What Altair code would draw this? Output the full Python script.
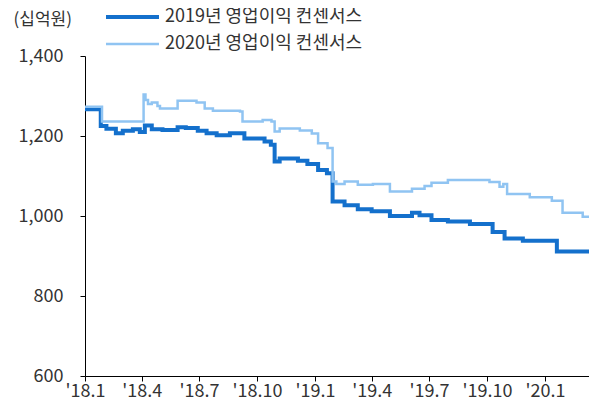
import altair as alt
import pandas as pd

series_names = ["2019년 영업이익 컨센서스", "2020년 영업이익 컨센서스"]
series_colors = ["#1470CC", "#90C4F2"]

dates_2019 = ["2018-01-01", "2018-01-26", "2018-02-04", "2018-02-19", "2018-03-02", "2018-03-18",
              "2018-03-29", "2018-04-06", "2018-04-17", "2018-05-04", "2018-05-28", "2018-06-10",
              "2018-06-29", "2018-07-13", "2018-07-29", "2018-08-19", "2018-09-11", "2018-10-13",
              "2018-10-23", "2018-10-29", "2018-11-06", "2018-12-05", "2018-12-20", "2019-01-06",
              "2019-01-20", "2019-01-29", "2019-02-17", "2019-03-10", "2019-04-01", "2019-04-30",
              "2019-06-04", "2019-06-16", "2019-07-05", "2019-07-31", "2019-09-04", "2019-10-10",
              "2019-10-29", "2019-11-27", "2020-01-20", "2020-03-18"]
values_2019 = [1267, 1225, 1218, 1207, 1213, 1217,
               1210, 1226, 1217, 1215, 1222, 1220,
               1213, 1207, 1202, 1207, 1194, 1186,
               1178, 1136, 1144, 1138, 1130, 1115,
               1107, 1036, 1027, 1017, 1012, 1000,
               1008, 1002, 990, 986, 980, 960,
               944, 938, 911, 911]

dates_2020 = ["2018-01-01", "2018-01-28", "2018-04-04", "2018-04-07", "2018-04-11", "2018-04-17",
              "2018-04-26", "2018-04-30", "2018-05-28", "2018-06-27", "2018-07-10", "2018-07-23",
              "2018-09-04", "2018-09-08", "2018-10-10", "2018-10-24", "2018-10-29", "2018-11-06",
              "2018-12-08", "2018-12-27", "2019-01-06", "2019-01-21", "2019-01-29", "2019-02-04",
              "2019-02-17", "2019-03-10", "2019-04-03", "2019-04-30", "2019-06-04", "2019-06-24",
              "2019-07-05", "2019-07-31", "2019-10-05", "2019-10-21", "2019-10-27", "2019-11-02",
              "2019-12-08", "2020-01-12", "2020-01-29", "2020-03-01", "2020-03-18"]
values_2020 = [1273, 1236, 1304, 1290, 1280, 1284,
               1275, 1269, 1288, 1284, 1269, 1263,
               1261, 1236, 1240, 1236, 1211, 1219,
               1214, 1206, 1182, 1170, 1086, 1080,
               1086, 1078, 1080, 1061, 1068, 1075,
               1083, 1090, 1085, 1073, 1080, 1055,
               1047, 1038, 1008, 998, 998]

y_ticks = [600, 800, 1000, 1200, 1400]

df = pd.concat([
    pd.DataFrame({"date": dates_2019, "value": values_2019, "series": series_names[0]}),
    pd.DataFrame({"date": dates_2020, "value": values_2020, "series": series_names[1]}),
])

FONT = "Noto Sans CJK KR"
TEXT = "#333333"

tick_values = [alt.DateTime(year=y, month=m, date=1, utc=True)
               for y, m in [(2018, 1), (2018, 4), (2018, 7), (2018, 10), (2019, 1),
                            (2019, 4), (2019, 7), (2019, 10), (2020, 1)]]

legend = alt.Legend(
    title=None, orient="none", legendX=17, legendY=-48, direction="vertical",
    symbolType="M-1,0H9.6", symbolSize=100, symbolStrokeWidth=3.5,
    labelFont=FONT, labelFontSize=18, labelColor=TEXT, labelOffset=45,
    labelLimit=400, rowPadding=9,
)

chart = alt.Chart(df).mark_line(interpolate="step-after", clip=True).encode(
    x=alt.X("date:T",
            scale=alt.Scale(type="utc",
                            domain=[alt.DateTime(year=2018, month=1, date=1, utc=True),
                                    alt.DateTime(year=2020, month=3, date=11, utc=True)]),
            axis=alt.Axis(values=tick_values, title=None, grid=False,
                          labelExpr="\"'\" + utcFormat(datum.value, '%y') + '.' + (utcmonth(datum.value) + 1)",
                          labelFont=FONT, labelFontSize=18, labelColor=TEXT,
                          domainColor="#000000", tickColor="#000000", tickSize=5,
                          labelPadding=1, labelFlush=False, labelOverlap=False)),
    y=alt.Y("value:Q",
            scale=alt.Scale(domain=[600, 1400], nice=False, zero=False),
            axis=alt.Axis(values=y_ticks, format=",.0f", grid=False,
                          title="(십억원)", titleAngle=0, titleAlign="left",
                          titleBaseline="middle", titleX=-72, titleY=-37,
                          titleFont=FONT, titleFontSize=17, titleFontWeight="normal",
                          titleColor=TEXT,
                          labelFont=FONT, labelFontSize=18, labelColor=TEXT,
                          domainColor="#000000", tickColor="#000000", tickSize=5,
                          labelPadding=17)),
    color=alt.Color("series:N",
                    scale=alt.Scale(domain=series_names, range=series_colors),
                    legend=legend),
    strokeWidth=alt.StrokeWidth("series:N",
                                scale=alt.Scale(domain=series_names, range=[4, 2.5]),
                                legend=legend),
).properties(
    width=504, height=320,
    autosize=alt.AutoSizeParams(type="none"),
    padding={"left": 77, "top": 48, "right": 0, "bottom": 24},
).configure_view(stroke=None)

chart.save("out.html", embed_options={"renderer": "svg", "actions": False})
